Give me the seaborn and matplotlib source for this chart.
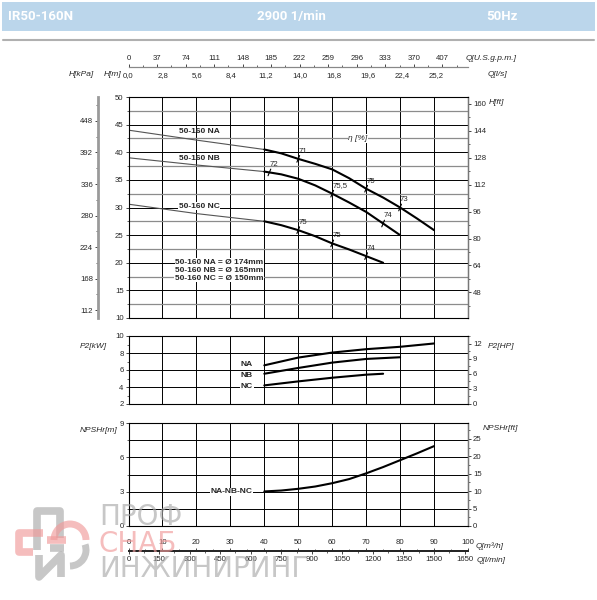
import numpy as np
import seaborn as sns
import matplotlib.pyplot as plt
from matplotlib.lines import Line2D
from matplotlib.patches import Rectangle, Arc
from matplotlib.ticker import MultipleLocator, FixedLocator

# head curves, Q in m3/h, H in m
q_na = [0, 20, 40, 45, 50, 55, 60, 65, 70, 75, 80, 85, 90]
h_na = [44.0, 42.2, 40.5, 39.8, 38.8, 37.9, 36.9, 35.3, 33.4, 31.8, 30.0, 28.0, 25.9]
q_nb = [0, 20, 40, 45, 50, 55, 60, 65, 70, 75, 80]
h_nb = [39.0, 37.7, 36.5, 36.0, 35.2, 34.0, 32.5, 30.9, 29.2, 27.1, 25.0]
q_nc = [0, 20, 40, 45, 50, 55, 60, 65, 70, 75]
h_nc = [30.6, 28.9, 27.5, 26.8, 25.9, 24.8, 23.5, 22.4, 21.2, 20.0]

# efficiency marks along the curves
eff_q_na = [50, 70, 80]
eff_na = ["71", "75", "73"]
eff_q_nb = [41.5, 60, 75]
eff_nb = ["72", "75,5", "74"]
eff_q_nc = [50, 60, 70]
eff_nc = ["75", "75", "74"]

# power curves, kW
q_p2_na = [40, 50, 60, 70, 80, 90]
p2_na = [6.55, 7.46, 8.05, 8.45, 8.73, 9.12]
q_p2_nb = [40, 50, 60, 70, 80]
p2_nb = [5.56, 6.24, 6.87, 7.3, 7.5]
q_p2_nc = [40, 50, 60, 70, 75]
p2_nc = [4.19, 4.66, 5.09, 5.45, 5.56]

# NPSHr, m
q_npsh = [40, 45, 50, 55, 60, 65, 70, 75, 80, 85, 90]
npsh = [3.02, 3.1, 3.25, 3.45, 3.74, 4.1, 4.6, 5.15, 5.75, 6.35, 6.98]

# axis tick labels
gpm_ticks = [0, 37, 74, 111, 148, 185, 222, 259, 296, 333, 370, 407]
ls_ticks = [0.0, 2.8, 5.6, 8.4, 11.2, 14.0, 16.8, 19.6, 22.4, 25.2]
lmin_ticks = [0, 150, 300, 450, 600, 750, 900, 1050, 1200, 1350, 1500, 1650]
kpa_ticks = [112, 168, 224, 280, 336, 392, 448]
ft_ticks = [48, 64, 80, 96, 112, 128, 144, 160]
hp_ticks = [0, 3, 6, 9, 12]
npsh_ft_ticks = [0, 5, 10, 15, 20, 25]

sns.set_style("white")
plt.rcParams['font.family'] = ['Liberation Sans', 'DejaVu Sans']

W, H = 597, 600
fig = plt.figure(figsize=(W / 100, H / 100), dpi=100)


def rect(x0, y0, x1, y1):
    return [x0 / W, 1 - y1 / H, (x1 - x0) / W, (y1 - y0) / H]


def ftext(x, y, s, **kw):
    fig.text(x / W, 1 - y / H, s, va='center', **kw)


TICK = dict(labelsize=5.6, length=2, width=0.6, pad=1.5)
LBL = dict(fontsize=6, style='italic')
BOLD = dict(fontsize=6, fontweight='bold', ha='center', va='center', zorder=5)
BOX = dict(facecolor='white', edgecolor='none', pad=0.4)

# header
fig.add_artist(Rectangle((2 / W, 1 - 31 / H), 593 / W, 29 / H, transform=fig.transFigure,
                         facecolor='#bbd6eb', edgecolor='none'))
hdr = dict(color='white', fontsize=9.5, fontweight='bold', family=['Roboto', 'DejaVu Sans'])
ftext(8, 16.5, "IR50-160N", ha='left', **hdr)
ftext(291, 16.5, "2900 1/min", ha='center', **hdr)
ftext(502, 16.5, "50Hz", ha='center', **hdr)
fig.add_artist(Line2D([3 / W, 594 / W], [1 - 40 / H] * 2, transform=fig.transFigure,
                      color='#b0b0b0', lw=1.5))


def panel(rect_px, ylim, major, minor, minor_color):
    a = fig.add_axes(rect(*rect_px))
    a.set_xlim(0, 100)
    a.set_ylim(*ylim)
    a.xaxis.set_major_locator(MultipleLocator(10))
    a.yaxis.set_major_locator(MultipleLocator(major))
    a.yaxis.set_minor_locator(MultipleLocator(minor))
    a.grid(which='major', color='black', lw=0.7)
    a.grid(which='minor', axis='y', color=minor_color, lw=0.9)
    a.tick_params(axis='x', which='both', length=0, labelbottom=False)
    a.tick_params(axis='y', which='major', left=True, **TICK)
    a.tick_params(axis='y', which='minor', left=True, length=1.2, width=0.5)
    a.set_axisbelow(True)
    for s in ['left', 'top', 'bottom']:
        a.spines[s].set_color('black')
        a.spines[s].set_linewidth(0.8)
    a.spines['right'].set_color('#777777')
    a.spines['right'].set_linewidth(1.0)
    return a


def right_axis(a, func, inv, ticks, minor):
    s = a.secondary_yaxis('right', functions=(func, inv))
    s.yaxis.set_major_locator(FixedLocator(ticks))
    s.yaxis.set_minor_locator(MultipleLocator(minor))
    s.tick_params(which='major', **TICK)
    s.tick_params(which='minor', length=1.2, width=0.5)
    s.spines['right'].set_color('#777777')
    return s


# ---- head panel ----
ax = panel((128.5, 97, 468, 318), (10, 50), 5, 2.5, '#8c8c8c')

kpa = ax.secondary_yaxis((98 - 128.5) / 339.5, functions=(lambda m: m * 9.81, lambda k: k / 9.81))
kpa.yaxis.set_major_locator(FixedLocator(kpa_ticks))
kpa.yaxis.set_minor_locator(MultipleLocator(28))
kpa.tick_params(which='major', **TICK)
kpa.tick_params(which='minor', length=1.2, width=0.5)
kpa.spines['left'].set_color('#9a9a9a')
kpa.spines['left'].set_linewidth(2)

right_axis(ax, lambda m: m * 3.281, lambda f: f / 3.281, ft_ticks, 8)

for qs, hs in [(q_na, h_na), (q_nb, h_nb), (q_nc, h_nc)]:
    k = qs.index(40)
    sns.lineplot(x=qs[:k + 1], y=hs[:k + 1], ax=ax, color='#555555', lw=0.8, sort=False, estimator=None)
    sns.lineplot(x=qs[k:], y=hs[k:], ax=ax, color='black', lw=1.5, sort=False, estimator=None)

for qs, hs, eq, el in [(q_na, h_na, eff_q_na, eff_na), (q_nb, h_nb, eff_q_nb, eff_nb),
                       (q_nc, h_nc, eff_q_nc, eff_nc)]:
    for q, lab in zip(eq, el):
        h = np.interp(q, qs, hs)
        ax.plot([q - 0.4, q + 0.4], [h - 0.6, h + 0.6], color='black', lw=0.8)
        ax.annotate(lab, (q, h), xytext=(0, 3), textcoords='offset points',
                    ha='left', va='bottom', fontsize=5.6, zorder=5)

ax.text(20.8, 43.7, "50-160 NA", **BOLD)
ax.text(20.8, 38.8, "50-160 NB", **BOLD)
ax.text(20.8, 30.2, "50-160 NC", bbox=BOX, **BOLD)
ax.text(67.6, 42.5, "η [%]", ha='center', va='center', fontsize=6, style='italic', zorder=5, bbox=BOX)
for yy, s in [(20.1, "50-160 NA = Ø 174mm"), (18.6, "50-160 NB = Ø 165mm"), (17.2, "50-160 NC = Ø 150mm")]:
    ax.text(26.7, yy, s, bbox=BOX, **BOLD)

# ---- power panel ----
ax2 = panel((128.5, 336, 468, 404), (2, 10), 2, 1, 'none')
right_axis(ax2, lambda k: (k - 2) * 1.69, lambda p: p / 1.69 + 2, hp_ticks, 1.5)
for qs, ps in [(q_p2_na, p2_na), (q_p2_nb, p2_nb), (q_p2_nc, p2_nc)]:
    sns.lineplot(x=qs, y=ps, ax=ax2, color='black', lw=1.5, sort=False, estimator=None)
ax2.text(34.9, 6.64, "NA", **BOLD)
ax2.text(34.9, 5.36, "NB", **BOLD)
ax2.text(34.9, 4.1, "NC", bbox=BOX, **BOLD)

# ---- NPSH panel ----
ax3 = panel((128.5, 423, 468, 526), (0, 9), 3, 1.5, 'black')
ax3.grid(which='minor', axis='y', color='black', lw=0.7)
right_axis(ax3, lambda m: m * 3.281, lambda f: f / 3.281, npsh_ft_ticks, 2.5)
sns.lineplot(x=q_npsh, y=npsh, ax=ax3, color='black', lw=1.5, sort=False, estimator=None)
ax3.text(30.3, 3.0, "NA-NB-NC", bbox=BOX, **BOLD)

# ---- top flow scale ----
axt = fig.add_axes(rect(128.5, 67, 468, 67.05))
axt.set_xlim(0, 100)
axt.set_yticks([])
for s in ['left', 'right', 'top']:
    axt.spines[s].set_visible(False)
axt.spines['bottom'].set_color('#888888')
axt.set_xticks([v * 3.6 for v in ls_ticks])
axt.set_xticklabels([f"{v:.1f}".replace('.', ',') for v in ls_ticks])
axt.xaxis.set_minor_locator(MultipleLocator(1.4 * 3.6))
axt.tick_params(axis='x', which='major', **TICK)
axt.tick_params(axis='x', which='minor', length=1.2, width=0.5)
gpm = axt.secondary_xaxis('top', functions=(lambda q: q * 4.403, lambda g: g / 4.403))
gpm.xaxis.set_major_locator(FixedLocator(gpm_ticks))
gpm.xaxis.set_minor_locator(MultipleLocator(18.5))
gpm.tick_params(which='major', **TICK)
gpm.tick_params(which='minor', length=1.2, width=0.5)
gpm.spines['top'].set_color('#888888')

# ---- bottom flow scale ----
axb = fig.add_axes(rect(128.5, 551, 468, 551.05))
axb.set_xlim(0, 100)
axb.set_yticks([])
for s in ['left', 'right', 'bottom']:
    axb.spines[s].set_visible(False)
axb.spines['top'].set_linewidth(1.4)
axb.xaxis.set_major_locator(MultipleLocator(10))
axb.xaxis.set_minor_locator(MultipleLocator(5))
axb.tick_params(axis='x', which='both', bottom=False, labelbottom=False, top=True, labeltop=True)
axb.tick_params(axis='x', which='major', **TICK)
axb.tick_params(axis='x', which='minor', length=1.2, width=0.5)
lmin = axb.secondary_xaxis('bottom', functions=(lambda q: q * 1000 / 60, lambda l: l * 60 / 1000))
lmin.xaxis.set_major_locator(FixedLocator(lmin_ticks))
lmin.xaxis.set_minor_locator(MultipleLocator(75))
lmin.tick_params(which='major', **TICK)
lmin.tick_params(which='minor', length=1.2, width=0.5)
lmin.spines['bottom'].set_linewidth(1.4)

# axis names
ftext(94, 74, "H[kPa]", ha='right', **LBL)
ftext(121, 74, "H[m]", ha='right', **LBL)
ftext(489, 103, "H[ft]", ha='left', **LBL)
ftext(466, 59, "Q[U.S.g.p.m.]", ha='left', **LBL)
ftext(488, 74, "Q[l/s]", ha='left', **LBL)
ftext(107, 347, "P2[kW]", ha='right', **LBL)
ftext(488, 347, "P2[HP]", ha='left', **LBL)
ftext(117, 431, "NPSHr[m]", ha='right', **LBL)
ftext(483, 429, "NPSHr[ft]", ha='left', **LBL)
ftext(476, 546, "Q[m³/h]", ha='left', **LBL)
ftext(477, 560, "Q[l/min]", ha='left', **LBL)

# watermark
gray, pink = '#a9a9a9', '#f19a9a'
wm = dict(fontsize=20, ha='left', alpha=0.65, family=['DejaVu Sans'], zorder=20)
ftext(99, 517, "ПРОФ", color=gray, **wm)
ftext(99, 544, "СНАБ", color=pink, **wm)
ftext(99, 569, "ИНЖИНИРИНГ", color=gray, **wm)


def wline(xs, ys, c):
    fig.add_artist(Line2D([x / W for x in xs], [1 - y / H for y in ys], transform=fig.transFigure,
                          color=c, lw=5.5, alpha=0.65, solid_capstyle='butt', zorder=20))


wline([37, 37, 60, 60], [550, 511, 511, 538], gray)
wline([43, 19, 19, 33], [533, 533, 552, 552], pink)
wline([39, 39, 61, 61], [555, 577, 555, 577], gray)
wline([47, 66], [540, 540], pink)
wline([50, 64], [548, 548], gray)
fig.add_artist(Arc((70 / W, 1 - 540 / H), 32 / W, 32 / H, theta1=0, theta2=180, transform=fig.transFigure,
                   color=pink, lw=5, alpha=0.65, zorder=20))
fig.add_artist(Arc((70 / W, 1 - 550 / H), 32 / W, 32 / H, theta1=-90, theta2=20, transform=fig.transFigure,
                   color=gray, lw=5, alpha=0.65, zorder=20))

fig.savefig("out.png", dpi=100)
